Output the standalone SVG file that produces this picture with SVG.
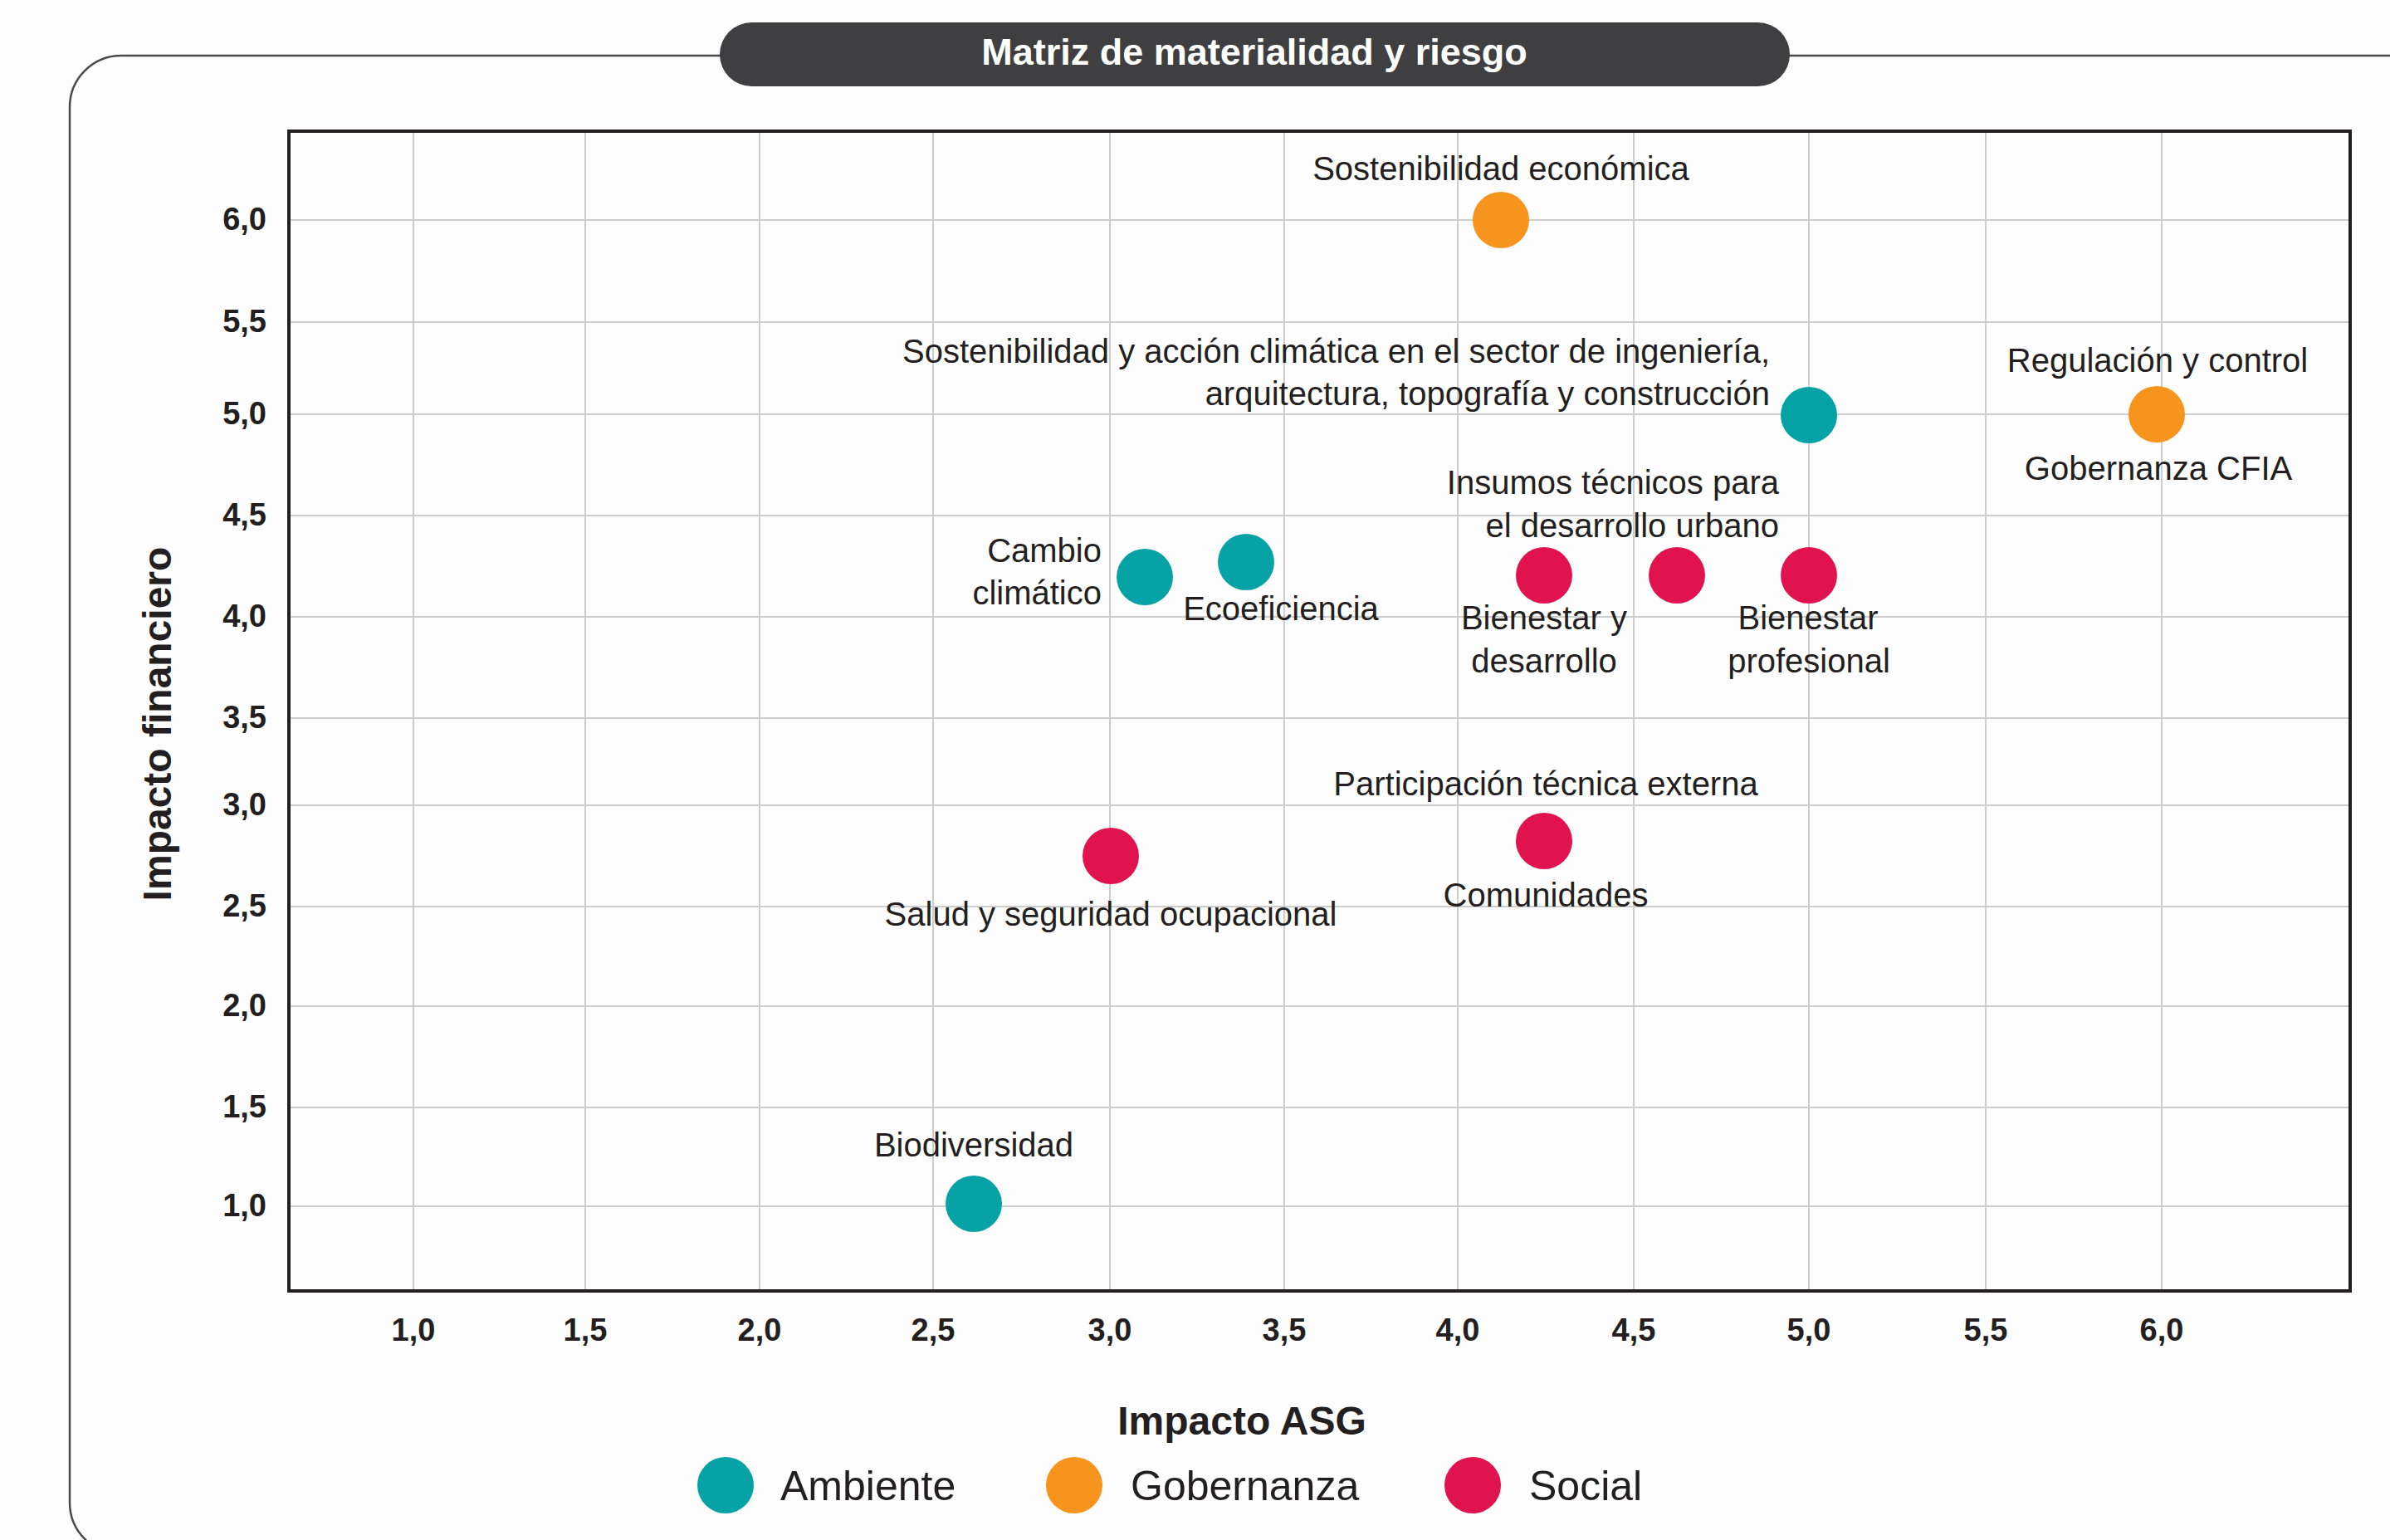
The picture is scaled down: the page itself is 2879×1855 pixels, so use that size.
<svg xmlns="http://www.w3.org/2000/svg" width="2879" height="1855" viewBox="0 0 2879 1855">
<style>
.bg{fill:#fdfdfd}
.frame{fill:none;stroke:#4a4a4a;stroke-width:2.5}
.grid{stroke:#cdcdcd;stroke-width:2}
.plot{fill:none;stroke:#231f20;stroke-width:4}
.lbl{font-family:"Liberation Sans",Arial,sans-serif;font-size:40px;fill:#231f20}
.tick{font-family:"Liberation Sans",Arial,sans-serif;font-size:38px;font-weight:bold;fill:#231f20}
.axis{font-family:"Liberation Sans",Arial,sans-serif;font-size:48px;font-weight:bold;fill:#231f20}
.leg{font-family:"Liberation Sans",Arial,sans-serif;font-size:50px;fill:#231f20}
.title{font-family:"Liberation Sans",Arial,sans-serif;font-size:45px;font-weight:bold;fill:#ffffff}
.amb{fill:#06a2a6}
.gob{fill:#f7941d}
.soc{fill:#e1134f}
.m{text-anchor:middle}
.e{text-anchor:end}
</style>
<rect class="bg" x="0" y="0" width="2879" height="1855"/>
<rect class="frame" x="84" y="67" width="2900" height="1805" rx="62" ry="62"/>
<g id="title">
<rect x="867" y="27" width="1289" height="77" rx="38.5" ry="38.5" fill="#3f3f41"/>
<text class="title m" x="1511" y="78">Matriz de materialidad y riesgo</text>
</g>
<g id="grid">
<line class="grid" x1="498" y1="158" x2="498" y2="1555"/>
<line class="grid" x1="705" y1="158" x2="705" y2="1555"/>
<line class="grid" x1="915" y1="158" x2="915" y2="1555"/>
<line class="grid" x1="1124" y1="158" x2="1124" y2="1555"/>
<line class="grid" x1="1337" y1="158" x2="1337" y2="1555"/>
<line class="grid" x1="1547" y1="158" x2="1547" y2="1555"/>
<line class="grid" x1="1756" y1="158" x2="1756" y2="1555"/>
<line class="grid" x1="1968" y1="158" x2="1968" y2="1555"/>
<line class="grid" x1="2179" y1="158" x2="2179" y2="1555"/>
<line class="grid" x1="2392" y1="158" x2="2392" y2="1555"/>
<line class="grid" x1="2604" y1="158" x2="2604" y2="1555"/>
<line class="grid" x1="348" y1="265" x2="2831" y2="265"/>
<line class="grid" x1="348" y1="388" x2="2831" y2="388"/>
<line class="grid" x1="348" y1="499" x2="2831" y2="499"/>
<line class="grid" x1="348" y1="621" x2="2831" y2="621"/>
<line class="grid" x1="348" y1="743" x2="2831" y2="743"/>
<line class="grid" x1="348" y1="865" x2="2831" y2="865"/>
<line class="grid" x1="348" y1="970" x2="2831" y2="970"/>
<line class="grid" x1="348" y1="1092" x2="2831" y2="1092"/>
<line class="grid" x1="348" y1="1212" x2="2831" y2="1212"/>
<line class="grid" x1="348" y1="1334" x2="2831" y2="1334"/>
<line class="grid" x1="348" y1="1453" x2="2831" y2="1453"/>
<rect class="plot" x="348" y="158" width="2483" height="1397"/>
</g>
<g id="y-ticks">
<text class="tick e" x="321" y="277">6,0</text>
<text class="tick e" x="321" y="400">5,5</text>
<text class="tick e" x="321" y="511">5,0</text>
<text class="tick e" x="321" y="633">4,5</text>
<text class="tick e" x="321" y="755">4,0</text>
<text class="tick e" x="321" y="877">3,5</text>
<text class="tick e" x="321" y="982">3,0</text>
<text class="tick e" x="321" y="1104">2,5</text>
<text class="tick e" x="321" y="1224">2,0</text>
<text class="tick e" x="321" y="1346">1,5</text>
<text class="tick e" x="321" y="1465">1,0</text>
</g>
<g id="x-ticks">
<text class="tick m" x="498" y="1615">1,0</text>
<text class="tick m" x="705" y="1615">1,5</text>
<text class="tick m" x="915" y="1615">2,0</text>
<text class="tick m" x="1124" y="1615">2,5</text>
<text class="tick m" x="1337" y="1615">3,0</text>
<text class="tick m" x="1547" y="1615">3,5</text>
<text class="tick m" x="1756" y="1615">4,0</text>
<text class="tick m" x="1968" y="1615">4,5</text>
<text class="tick m" x="2179" y="1615">5,0</text>
<text class="tick m" x="2392" y="1615">5,5</text>
<text class="tick m" x="2604" y="1615">6,0</text>
</g>
<g id="axis-titles">
<text class="axis m" transform="translate(206,872) rotate(-90)">Impacto financiero</text>
<text class="axis m" x="1496" y="1728">Impacto ASG</text>
</g>
<g id="connectors"></g>
<g id="n-sostenibilidad-economica">
<circle class="gob" cx="1808" cy="265" r="34"/>
<text class="lbl m" x="1808" y="217">Sostenibilidad económica</text>
</g>
<g id="n-sostenibilidad-accion-climatica">
<circle class="amb" cx="2179" cy="500" r="34"/>
<text class="lbl e" x="2132" y="437">Sostenibilidad y acción climática en el sector de ingeniería,</text>
<text class="lbl e" x="2132" y="488">arquitectura, topografía y construcción</text>
</g>
<g id="n-gobernanza-cfia">
<circle class="gob" cx="2598" cy="499" r="34"/>
<text class="lbl m" x="2599" y="448">Regulación y control</text>
<text class="lbl m" x="2600" y="578">Gobernanza CFIA</text>
</g>
<g id="n-cambio-climatico">
<circle class="amb" cx="1379" cy="695" r="34"/>
<text class="lbl e" x="1327" y="677">Cambio</text>
<text class="lbl e" x="1327" y="728">climático</text>
</g>
<g id="n-ecoeficiencia">
<circle class="amb" cx="1501" cy="677" r="34"/>
<text class="lbl m" x="1543" y="747">Ecoeficiencia</text>
</g>
<g id="n-bienestar-desarrollo">
<circle class="soc" cx="1860" cy="693" r="34"/>
<text class="lbl m" x="1860" y="758">Bienestar y</text>
<text class="lbl m" x="1860" y="810">desarrollo</text>
</g>
<g id="n-insumos-tecnicos">
<circle class="soc" cx="2020" cy="693" r="34"/>
<text class="lbl e" x="2143" y="595">Insumos técnicos para</text>
<text class="lbl e" x="2143" y="647">el desarrollo urbano</text>
</g>
<g id="n-bienestar-profesional">
<circle class="soc" cx="2179" cy="693" r="34"/>
<text class="lbl m" x="2178" y="758">Bienestar</text>
<text class="lbl m" x="2179" y="810">profesional</text>
</g>
<g id="n-comunidades">
<circle class="soc" cx="1860" cy="1013" r="34"/>
<text class="lbl m" x="1862" y="958">Participación técnica externa</text>
<text class="lbl m" x="1862" y="1092">Comunidades</text>
</g>
<g id="n-salud-seguridad">
<circle class="soc" cx="1338" cy="1031" r="34"/>
<text class="lbl m" x="1338" y="1115">Salud y seguridad ocupacional</text>
</g>
<g id="n-biodiversidad">
<circle class="amb" cx="1173" cy="1450" r="34"/>
<text class="lbl m" x="1173" y="1393">Biodiversidad</text>
</g>
<g id="legend">
<circle class="amb" cx="874" cy="1789" r="34"/>
<text class="leg" x="940" y="1807">Ambiente</text>
<circle class="gob" cx="1294" cy="1789" r="34"/>
<text class="leg" x="1362" y="1807">Gobernanza</text>
<circle class="soc" cx="1774" cy="1789" r="34"/>
<text class="leg" x="1842" y="1807">Social</text>
</g>
</svg>
